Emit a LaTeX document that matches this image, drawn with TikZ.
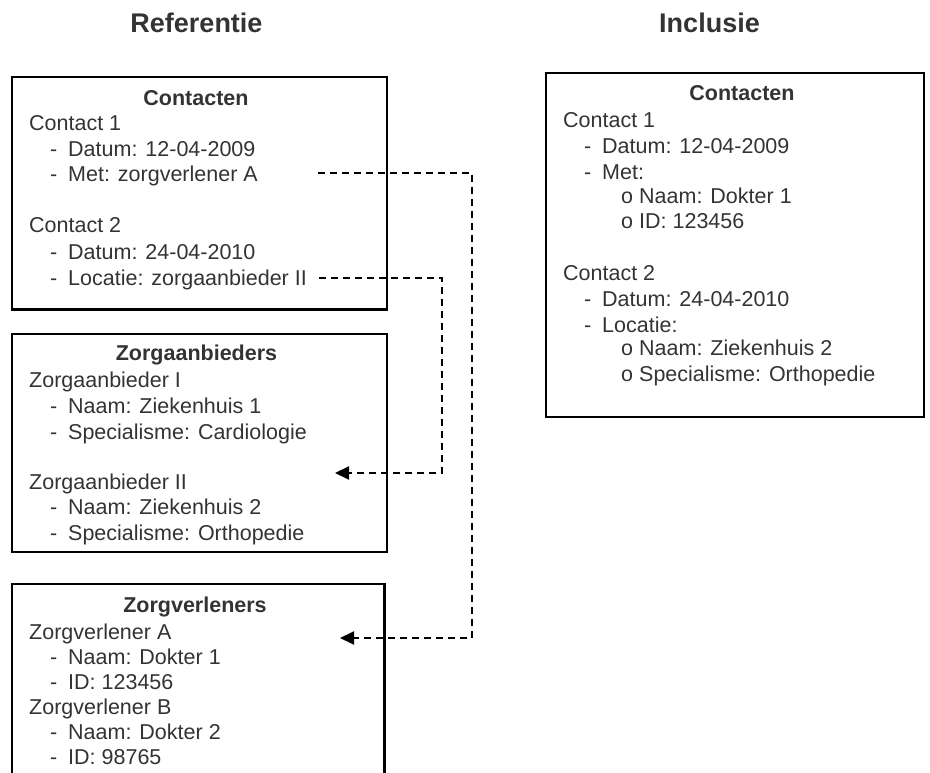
\documentclass[tikz,border=0pt]{standalone}
\usepackage{fontspec}
\setmainfont{Liberation Sans}
\usetikzlibrary{arrows.meta}
\definecolor{ink}{HTML}{333333}
% list markers with a fixed indent before the item text
\newcommand{\dashitem}[1]{\makebox[18pt][l]{-}#1}
\newcommand{\circitem}[1]{\makebox[18pt][l]{o}#1}
\begin{document}
\begin{tikzpicture}[x=1pt,y=-1pt,
  txt/.style={anchor=base west, inner sep=0pt, text=ink, font=\fontsize{21.5}{25}\selectfont},
  hdr/.style={anchor=base, inner sep=0pt, text=ink, font=\fontsize{21.5}{25}\selectfont\bfseries},
  heading/.style={anchor=base, inner sep=0pt, text=ink, font=\fontsize{27}{30}\selectfont\bfseries},
  frame/.style={draw=black, line width=2.2pt, anchor=north west, inner sep=0pt},
  link/.style={draw=black, line width=2pt, dash pattern=on 7pt off 5pt, -{Triangle[length=14pt,width=13pt]}}
]
\clip (0,0) rectangle (930,773);

% column headings
\node[heading] (hRef) at (196.5,33) {Referentie};
\node[heading] (hInc) at (709.5,33) {Inclusie};

% frames
\node[frame, minimum width=374.7pt, minimum height=232.3pt] (boxContact) at (11,76) {};
\node[frame, minimum width=374.7pt, minimum height=218.3pt] (boxAanb) at (11,332.7) {};
\node[frame, minimum width=372.3pt, minimum height=250pt] (boxVerl) at (11,582.7) {};
\node[frame, minimum width=377.7pt, minimum height=343.7pt] (boxIncl) at (545,72.3) {};

% Referentie: Contacten
\node[hdr] (rcT) at (196,106) {Contacten};
\node[txt] (rc1) at (29,131) {Contact 1};
\node[txt] (rc1d) at (50,156.5) {\dashitem{Datum: 12-04-2009}};
\node[txt] (rc1m) at (50,182) {\dashitem{Met: zorgverlener A}};
\node[txt] (rc2) at (29,233) {Contact 2};
\node[txt] (rc2d) at (50,259) {\dashitem{Datum: 24-04-2010}};
\node[txt] (rc2l) at (50,285) {\dashitem{Locatie: zorgaanbieder II}};

% Referentie: Zorgaanbieders
\node[hdr] (raT) at (196.5,360.5) {Zorgaanbieders};
\node[txt] (ra1) at (29,387.5) {Zorgaanbieder I};
\node[txt] (ra1n) at (50,413.5) {\dashitem{Naam: Ziekenhuis 1}};
\node[txt] (ra1s) at (50,439) {\dashitem{Specialisme: Cardiologie}};
\node[txt] (ra2) at (29,489) {Zorgaanbieder II};
\node[txt] (ra2n) at (50,514) {\dashitem{Naam: Ziekenhuis 2}};
\node[txt] (ra2s) at (50,540) {\dashitem{Specialisme: Orthopedie}};

% Referentie: Zorgverleners
\node[hdr] (rvT) at (195,612.5) {Zorgverleners};
\node[txt] (rvA) at (29,639) {Zorgverlener A};
\node[txt] (rvAn) at (50,664) {\dashitem{Naam: Dokter 1}};
\node[txt] (rvAi) at (50,689) {\dashitem{ID: 123456}};
\node[txt] (rvB) at (29,714) {Zorgverlener B};
\node[txt] (rvBn) at (50,739) {\dashitem{Naam: Dokter 2}};
\node[txt] (rvBi) at (50,764) {\dashitem{ID: 98765}};

% Inclusie: Contacten
\node[hdr] (icT) at (742,101) {Contacten};
\node[txt] (ic1) at (563,127.5) {Contact 1};
\node[txt] (ic1d) at (584,153.5) {\dashitem{Datum: 12-04-2009}};
\node[txt] (ic1m) at (584,180) {\dashitem{Met:}};
\node[txt] (ic1mn) at (621,204) {\circitem{Naam: Dokter 1}};
\node[txt] (ic1mi) at (621,228.5) {\circitem{ID: 123456}};
\node[txt] (ic2) at (563,280) {Contact 2};
\node[txt] (ic2d) at (584,306) {\dashitem{Datum: 24-04-2010}};
\node[txt] (ic2l) at (584,332.5) {\dashitem{Locatie:}};
\node[txt] (ic2ln) at (621,355) {\circitem{Naam: Ziekenhuis 2}};
\node[txt] (ic2ls) at (621,381) {\circitem{Specialisme: Orthopedie}};

% reference links
\coordinate (metOut) at (318,173);
\coordinate (locOut) at (319,278);
\coordinate (aanbIn) at (335,473);
\coordinate (verlIn) at (340,638);
\draw[link] (metOut) -- ++(154,0) |- (verlIn);
\draw[link] (locOut) -- ++(123,0) |- (aanbIn);
\end{tikzpicture}
\end{document}
